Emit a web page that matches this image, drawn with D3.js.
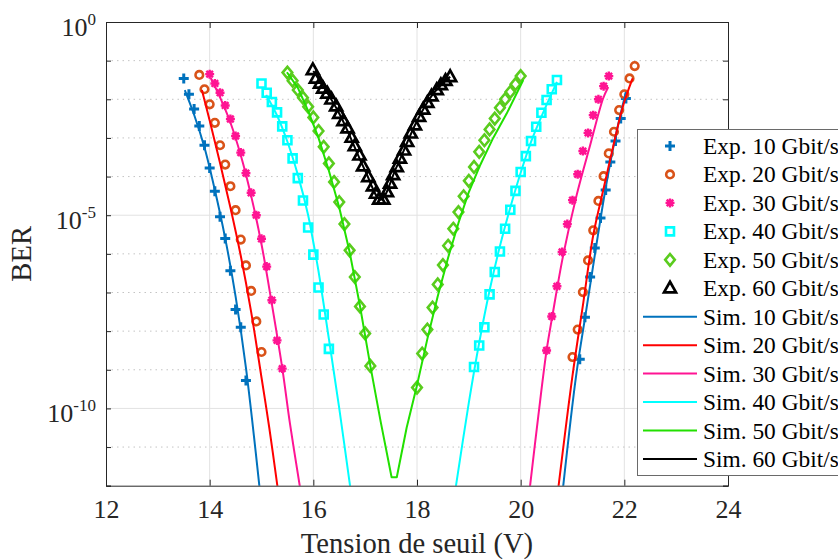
<!DOCTYPE html>
<html><head><meta charset="utf-8">
<script src="https://cdn.jsdelivr.net/npm/d3@7"></script>
<style>html,body{margin:0;padding:0;background:#fff;}svg{display:block;font-family:"Liberation Serif","Times New Roman",serif;}</style>
</head><body><svg id="c" width="838" height="560"></svg>
<script>
// ---- data: threshold voltage (V) and log10(BER) ----
const xTicks = [12,14,16,18,20,22,24];
const yDecades = [0,-1,-2,-3,-4,-5,-6,-7,-8,-9,-10,-11,-12];
const yLabelled = [0,-5,-10];
const seriesNames = ["Exp. 10 Gbit/s","Exp. 20 Gbit/s","Exp. 30 Gbit/s","Exp. 40 Gbit/s","Exp. 50 Gbit/s","Exp. 60 Gbit/s",
  "Sim. 10 Gbit/s","Sim. 20 Gbit/s","Sim. 30 Gbit/s","Sim. 40 Gbit/s","Sim. 50 Gbit/s","Sim. 60 Gbit/s"];

const exp10V = [13.5,13.6,13.7,13.8,13.9,14.0,14.1,14.2,14.3,14.4,14.5,14.6,14.7, 21.14,21.24,21.34,21.43,21.54,21.64,21.73,21.83,21.93,22.03];
const exp10L = [-1.46,-1.87,-2.25,-2.69,-3.19,-3.78,-4.38,-5.04,-5.60,-6.44,-7.44,-7.90,-9.28, -8.73,-7.64,-6.60,-5.85,-5.07,-4.35,-3.62,-3.08,-2.50,-1.98];
const exp20V = [13.8,13.9,14.0,14.1,14.2,14.3,14.4,14.5,14.6,14.7,14.8,14.9,15.0, 21.0,21.1,21.2,21.3,21.4,21.5,21.6,21.7,21.8,21.9,22.0,22.1,22.2];
const exp20L = [-1.37,-1.74,-2.13,-2.61,-3.19,-3.69,-4.25,-4.87,-5.63,-6.30,-6.96,-7.75,-8.54, -8.67,-7.96,-6.99,-6.17,-5.39,-4.63,-3.99,-3.40,-2.84,-2.28,-1.87,-1.46,-1.14];
const exp30V = [14.0,14.1,14.2,14.3,14.4,14.5,14.6,14.7,14.8,14.9,15.0,15.1,15.2,15.3,15.4, 20.5,20.6,20.7,20.8,20.9,21.0,21.1,21.2,21.3,21.4,21.5,21.6,21.7];
const exp30L = [-1.35,-1.59,-1.83,-2.16,-2.51,-2.95,-3.38,-3.91,-4.42,-5.00,-5.61,-6.33,-7.20,-8.24,-8.97, -8.50,-7.62,-6.84,-5.95,-5.23,-4.61,-3.94,-3.34,-2.87,-2.41,-2.00,-1.66,-1.40];
const exp40V = [15.0,15.1,15.2,15.3,15.4,15.5,15.6,15.7,15.8,15.9,16.0,16.1,16.2,16.3, 19.1,19.2,19.3,19.4,19.5,19.6,19.7,19.8,19.9,20.0,20.1,20.2,20.3,20.4,20.5,20.6,20.7];
const exp40L = [-1.59,-1.83,-2.07,-2.34,-2.70,-3.06,-3.53,-4.04,-4.62,-5.32,-6.02,-6.87,-7.57,-8.46, -8.93,-8.37,-7.90,-7.05,-6.47,-5.94,-5.35,-4.86,-4.37,-3.88,-3.47,-3.08,-2.71,-2.35,-2.02,-1.74,-1.50];
const exp50V = [15.5,15.6,15.7,15.8,15.9,16.0,16.1,16.2,16.3,16.4,16.5,16.6,16.7,16.8,16.9,17.0,17.1, 18.0,18.1,18.2,18.3,18.4,18.5,18.6,18.7,18.8,18.9,19.0,19.1,19.2,19.3,19.4,19.5,19.6,19.7,19.8,19.9,20.0];
const exp50L = [-1.31,-1.52,-1.76,-1.96,-2.19,-2.47,-2.82,-3.23,-3.66,-4.14,-4.66,-5.23,-5.91,-6.60,-7.36,-8.06,-8.90, -9.46,-8.58,-7.96,-7.39,-6.79,-6.29,-5.79,-5.35,-4.92,-4.51,-4.11,-3.75,-3.36,-3.06,-2.78,-2.50,-2.22,-2.00,-1.81,-1.61,-1.40];
const exp60V = [15.99,16.05,16.13,16.19,16.27,16.35,16.44,16.50,16.58,16.66,16.74,16.80,16.89,16.96,17.06,17.15,17.21,17.27, 17.35,17.42,17.48,17.54,17.61,17.67,17.75,17.81,17.88,17.96,18.04,18.12,18.20,18.28,18.38,18.46,18.55,18.64];
const exp60L = [-1.24,-1.46,-1.59,-1.72,-1.85,-2.00,-2.18,-2.37,-2.56,-2.75,-2.99,-3.21,-3.45,-3.73,-4.01,-4.25,-4.44,-4.59, -4.59,-4.40,-4.18,-3.96,-3.75,-3.53,-3.32,-3.10,-2.88,-2.67,-2.45,-2.26,-2.09,-1.92,-1.76,-1.63,-1.52,-1.42];

const sim10LeftV = [13.52,13.7,13.9,14.1,14.3,14.5,14.7,14.96];
const sim10LeftL = [-1.76,-2.4,-3.25,-4.35,-5.6,-7.1,-8.95,-12.02];
const sim10RightV = [20.82,21.07,21.27,21.47,21.66,21.85,22.03];
const sim10RightL = [-12.02,-9.15,-7.42,-5.69,-4.14,-2.84,-1.81];
const sim20LeftV = [13.85,14.0,14.2,14.4,14.6,14.8,15.0,15.15,15.31];
const sim20LeftL = [-1.76,-2.55,-3.65,-4.8,-6.05,-7.5,-9.2,-10.5,-12.04];
const sim20RightV = [20.73,21.00,21.21,21.40,21.60,21.79,21.98,22.16];
const sim20RightL = [-12.02,-9.15,-7.25,-5.52,-4.31,-3.19,-2.15,-1.46];
const sim30LeftV = [14.02,14.2,14.4,14.6,14.8,15.0,15.2,15.4,15.55,15.74];
const sim30LeftL = [-1.45,-1.95,-2.6,-3.45,-4.5,-5.75,-7.3,-8.95,-10.4,-12.02];
const sim30RightV = [20.18,20.34,20.50,20.61,20.82,21.08,21.34,21.59,21.69];
const sim30RightL = [-12.02,-10.2,-8.50,-7.62,-6.04,-4.48,-3.19,-1.98,-1.68];
const sim40LeftV = [15.09,15.3,15.5,15.7,15.9,16.0,16.1,16.3,16.5,16.71];
const sim40LeftL = [-1.89,-2.42,-3.1,-3.95,-5.0,-5.7,-6.45,-8.2,-10.0,-12.02];
const sim40RightV = [18.75,19.0,19.2,19.4,19.6,19.8,20.0,20.2,20.4,20.7];
const sim40RightL = [-12.02,-9.85,-8.3,-6.95,-5.8,-4.8,-3.9,-3.1,-2.45,-1.55];
const sim50V = [15.49,15.7,15.9,16.1,16.3,16.5,16.7,16.9,17.1,17.3,17.51,17.61,17.8,18.0,18.2,18.4,18.6,18.8,19.0,19.22,19.47,19.73,20.05];
const sim50L = [-1.30,-1.7,-2.3,-3.0,-3.85,-4.8,-5.95,-7.35,-8.9,-10.35,-11.78,-11.78,-10.5,-9.4,-8.2,-7.1,-6.1,-5.2,-4.4,-3.7,-3.0,-2.37,-1.5];
const sim60V = [16.0,16.5,17.0,17.3,17.6,18.0,18.3,18.64];
const sim60L = [-1.27,-2.37,-3.85,-4.6,-3.77,-2.56,-1.88,-1.42];

// ---- styles ----
const expColors = ["#0072BD","#D95319","#FF1493","#00FFFF","#5ACC1E","#000000"];
const simColors = ["#0072BD","#FF0000","#FF1493","#00FFFF","#22E000","#000000"];
const markerKinds = ["plus","circle","star","square","diamond","triangle"];

const svg = d3.select("#c");
const L=106, T=22, R=728, B=485.7;
const x = d3.scaleLinear().domain([12,24]).range([L,R]);
const y = d3.scaleLog().domain([1e-12,1]).range([B,T]);
const ber = l => Math.pow(10,l);
const pts = (V,Lg) => V.map((v,i)=>[v,ber(Lg[i])]);

svg.append("defs").append("clipPath").attr("id","clip").append("rect")
  .attr("x",L).attr("y",T).attr("width",R-L).attr("height",B-T);

// grid
const grid = svg.append("g");
grid.selectAll(".gx").data(xTicks.slice(1,-1)).enter().append("line")
  .attr("x1",d=>x(d)).attr("x2",d=>x(d)).attr("y1",T).attr("y2",B)
  .attr("stroke","#e2e2e2").attr("stroke-width",1);
grid.selectAll(".gy").data(yDecades.slice(1,-1)).enter().append("line")
  .attr("x1",L).attr("x2",R).attr("y1",d=>y(ber(d))).attr("y2",d=>y(ber(d)))
  .attr("stroke",d=>yLabelled.includes(d)?"#e2e2e2":"#c4c4c4")
  .attr("stroke-dasharray",d=>yLabelled.includes(d)?null:"1.5,4")
  .attr("stroke-width",1);

// markers
function markerPath(kind){
  switch(kind){
    case "plus": return "M-5,0H5M0,-5V5";
    case "circle": return "M3.8,0A3.8,3.8 0 1 1 -3.8,0A3.8,3.8 0 1 1 3.8,0Z";
    case "star": return "M-4.5,0H4.5M0,-4.5V4.5M-3.3,-3.3L3.3,3.3M-3.3,3.3L3.3,-3.3";
    case "square": return "M-4,-4H4V4H-4Z";
    case "diamond": return "M0,-5.8L4.8,0L0,5.8L-4.8,0Z";
    case "triangle": return "M0,-6.5L6,4.2L-6,4.2Z";
  }
}
const markerWidth = {plus:3,circle:2.6,star:2.4,square:2.6,diamond:2.6,triangle:2.7};

const plot = svg.append("g").attr("clip-path","url(#clip)");
const expSets = [[exp10V,exp10L],[exp20V,exp20L],[exp30V,exp30L],[exp40V,exp40L],[exp50V,exp50L],[exp60V,exp60L]];
expSets.forEach((s,i)=>{
  plot.append("g").selectAll("path").data(pts(s[0],s[1])).enter().append("path")
    .attr("transform",d=>`translate(${x(d[0])},${y(d[1])})`)
    .attr("d",markerPath(markerKinds[i])).attr("fill","none")
    .attr("stroke",expColors[i]).attr("stroke-width",markerWidth[markerKinds[i]])
    .attr("stroke-linejoin","miter");
});

const smooth = d3.line().x(d=>x(d[0])).y(d=>y(d[1])).curve(d3.curveCatmullRom.alpha(0.5));
const straight = d3.line().x(d=>x(d[0])).y(d=>y(d[1]));
const simSets = [
  [[sim10LeftV,sim10LeftL],[sim10RightV,sim10RightL]],
  [[sim20LeftV,sim20LeftL],[sim20RightV,sim20RightL]],
  [[sim30LeftV,sim30LeftL],[sim30RightV,sim30RightL]],
  [[sim40LeftV,sim40LeftL],[sim40RightV,sim40RightL]],
  [[sim50V,sim50L]],
  [[sim60V,sim60L]]
];
simSets.forEach((branches,i)=>{
  const gen = (i===4) ? straight : smooth;
  branches.forEach(b=>{
    plot.append("path").attr("d",gen(pts(b[0],b[1]))).attr("fill","none")
      .attr("stroke",simColors[i]).attr("stroke-width",2).attr("stroke-linejoin","round");
  });
});

// axes
const axisColor="#262626";
const gx = svg.append("g").attr("transform",`translate(0,${B})`)
  .call(d3.axisBottom(x).tickValues(xTicks).tickSize(-6).tickPadding(14).tickFormat(d3.format("d")));
const gxt = svg.append("g").attr("transform",`translate(0,${T})`)
  .call(d3.axisTop(x).tickValues(xTicks).tickSize(-6).tickFormat(""));
const gy = svg.append("g").attr("transform",`translate(${L},0)`)
  .call(d3.axisLeft(y).tickValues(yDecades.map(ber)).tickSize(-5).tickPadding(10));
const gyr = svg.append("g").attr("transform",`translate(${R},0)`)
  .call(d3.axisRight(y).tickValues(yDecades.map(ber)).tickSize(-5).tickFormat(""));
[gx,gxt,gy,gyr].forEach(g=>{
  g.select(".domain").attr("stroke",axisColor).attr("stroke-width",1);
  g.selectAll(".tick line").attr("stroke",axisColor);
  g.selectAll("text").attr("font-family","Liberation Serif, Times New Roman, serif").attr("font-size",26).attr("fill",axisColor);
});
gy.selectAll(".tick text").each(function(d){
  const e = Math.round(Math.log10(d));
  const t = d3.select(this);
  if(!yLabelled.includes(e)){ t.remove(); return; }
  t.text(null).attr("dy","0.5em");
  t.append("tspan").text("10");
  t.append("tspan").attr("dy",-11).attr("font-size",17).text(String(e));
});

// axis titles
svg.append("text").attr("x",(L+R)/2).attr("y",553).attr("text-anchor","middle")
  .attr("font-size",28.6).attr("fill",axisColor).text("Tension de seuil (V)");
svg.append("text").attr("transform",`translate(31,${(T+B)/2}) rotate(-90)`).attr("text-anchor","middle")
  .attr("font-size",28.6).attr("fill",axisColor).text("BER");

// legend
const leg = svg.append("g");
leg.append("rect").attr("x",637.5).attr("y",129.5).attr("width",240).attr("height",346)
  .attr("fill","#fff").attr("stroke","#6a6a6a").attr("stroke-width",1);
seriesNames.forEach((name,i)=>{
  const yy = 146 + i*28.45;
  if(i<6){
    leg.append("path").attr("transform",`translate(670,${yy})`).attr("d",markerPath(markerKinds[i]))
      .attr("fill","none").attr("stroke",expColors[i]).attr("stroke-width",markerWidth[markerKinds[i]]);
  } else {
    leg.append("line").attr("x1",643).attr("x2",697).attr("y1",yy).attr("y2",yy)
      .attr("stroke",simColors[i-6]).attr("stroke-width",2);
  }
  leg.append("text").attr("x",703).attr("y",yy+8).attr("font-size",23.4).attr("fill","#000").text(name);
});
</script></body></html>
